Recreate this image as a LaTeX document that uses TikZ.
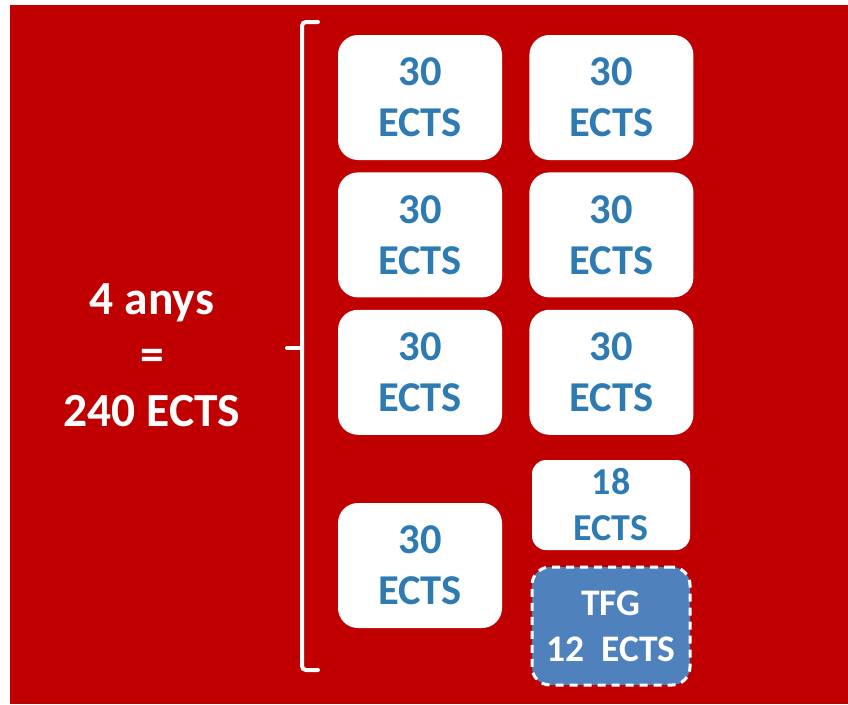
\documentclass[tikz,border=0pt]{standalone}
\usepackage{fontspec}
\setmainfont{Carlito}
\usepackage{xcolor}
\usetikzlibrary{positioning}
\definecolor{bgred}{RGB}{192,0,0}
\definecolor{ectsblue}{RGB}{46,122,178}
\definecolor{tfgblue}{RGB}{79,129,189}

\begin{document}
\begin{tikzpicture}[
    x=1pt, y=-1pt,
    node distance=12pt and 27pt,
    sem/.style={rectangle, fill=white, rounded corners=20pt,
                minimum width=164pt, minimum height=125pt, inner sep=0pt,
                align=center, text=ectsblue,
                font=\fontsize{42.5}{51}\selectfont\bfseries},
    brace/.style={white, line width=4pt, rounded corners=4pt, line cap=round},
]
    \useasboundingbox (0,0) rectangle (848,704);
    \fill[bgred] (10,5) rectangle (848,704);

    \node[text=white, align=center, font=\fontsize{47.5}{56}\selectfont\bfseries]
        (total) at (152,355) {4 anys\\=\\240 ECTS};

    % brace
    \coordinate (btop) at (318,22);
    \coordinate (bbot) at (318,670);
    \coordinate (bmid) at (287,348);
    \draw[brace] (btop) -- (302,22) -- (302,670) -- (bbot);
    \draw[brace] (bmid) -- (302,348);

    \node[sem] (s1) at (420,97.5) {30\\ECTS};
    \node[sem, right=of s1] (s2) {30\\ECTS};
    \node[sem, below=of s1] (s3) {30\\ECTS};
    \node[sem, below=of s2] (s4) {30\\ECTS};
    \node[sem, below=of s3] (s5) {30\\ECTS};
    \node[sem, below=of s4] (s6) {30\\ECTS};
    \node[sem] (s7) at (420,565.5) {30\\ECTS};

    \node[sem, minimum width=158pt, minimum height=90pt, rounded corners=14pt,
          font=\fontsize{38}{46}\selectfont\bfseries] (s8) at (611,505) {18\\ECTS};
    \node[sem, minimum width=158pt, minimum height=118pt, fill=tfgblue, text=white,
          draw=white, line width=3pt, dash pattern=on 8pt off 6pt, rounded corners=18pt,
          font=\fontsize{37.5}{46}\selectfont\bfseries] (tfg) at (611,626) {TFG\\12~~ECTS};
\end{tikzpicture}
\end{document}
